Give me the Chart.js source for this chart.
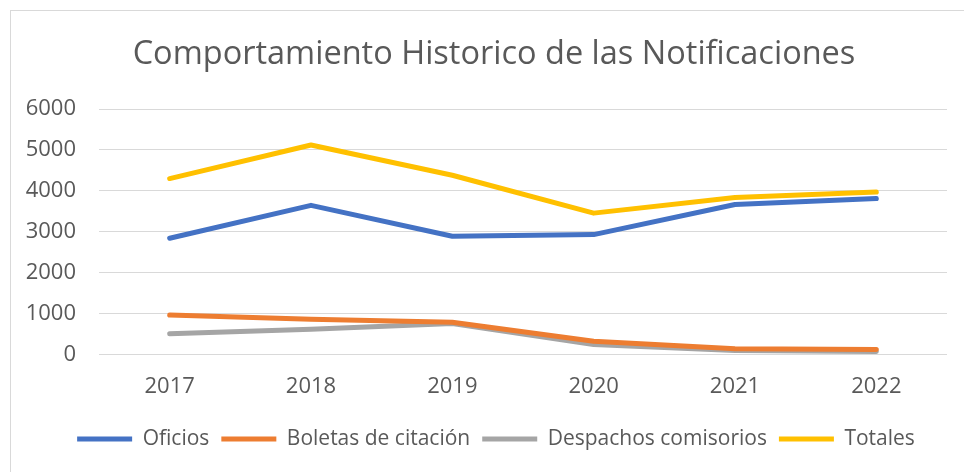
<!DOCTYPE html>
<html>
<head>
<meta charset="utf-8">
<script src="https://cdn.jsdelivr.net/npm/chart.js@4.4.1/dist/chart.umd.min.js"></script>
<style>
  html, body { margin: 0; padding: 0; background: #ffffff; }
  #wrap { position: relative; width: 964px; height: 472px; overflow: hidden; }
  #frame { position: absolute; left: 10px; top: 10px; width: 1000px; height: 500px;
           border-left: 1px solid #d9d9d9; border-top: 1px solid #d9d9d9; pointer-events: none; }
  canvas { position: absolute; left: 0; top: 0; }
</style>
</head>
<body>
<div id="wrap">
  <canvas id="c" width="964" height="472"></canvas>
  <div id="frame"></div>
</div>
<script>
const categories = ['2017', '2018', '2019', '2020', '2021', '2022'];
const oficios    = [2840, 3645, 2890, 2930, 3665, 3810];
const boletas    = [965, 860, 790, 325, 140, 120];
const despachos  = [505, 615, 760, 245, 95, 75];
const totales    = [4300, 5120, 4380, 3455, 3835, 3970];
const yTicks     = [0, 1000, 2000, 3000, 4000, 5000, 6000];
const titleText  = 'Comportamiento Historico de las Notificaciones';

const FONT = "'Open Sans', 'Liberation Sans', sans-serif";
const TXT = '#595959';

function ds(label, data, color) {
  return {
    label: label, data: data, borderColor: color, backgroundColor: color,
    borderWidth: 5, pointRadius: 0, pointHoverRadius: 0, pointStyle: 'line',
    borderCapStyle: 'round', borderJoinStyle: 'round', tension: 0, fill: false
  };
}

// centre the title and legend over the same span as in the reference
const blockShift = {
  id: 'blockShift',
  afterLayout(chart) {
    const t = chart.titleBlock;
    if (t) { t.left = 41; t.right = 947; t.width = t.right - t.left; }
    const l = chart.legend;
    if (l) { l.left = 45; l.right = 947; l.width = l.right - l.left; }
  }
};

new Chart(document.getElementById('c'), {
  type: 'line',
  data: {
    labels: categories,
    datasets: [
      ds('Oficios', oficios, '#4472C4'),
      ds('Boletas de citación', boletas, '#ED7D31'),
      ds('Despachos comisorios', despachos, '#A5A5A5'),
      ds('Totales', totales, '#FFC000')
    ]
  },
  plugins: [blockShift],
  options: {
    responsive: false,
    animation: false,
    layout: { padding: { left: 0, right: 17, top: 0, bottom: 12.5 } },
    plugins: {
      title: {
        display: true, text: titleText, color: TXT,
        font: { family: FONT, size: 32.5, weight: 'normal', lineHeight: 1.2 },
        padding: { top: 35.5, bottom: 34.5 }
      },
      legend: {
        position: 'bottom',
        labels: {
          color: TXT, font: { family: FONT, size: 21 },
          usePointStyle: true, pointStyleWidth: 55, boxHeight: 6,
          padding: 12
        }
      },
      tooltip: { enabled: false }
    },
    scales: {
      x: {
        offset: true,
        afterFit: function (s) { s.height = 62; },
        grid: { display: false, drawTicks: false },
        border: { display: false },
        ticks: { color: TXT, font: { family: FONT, size: 22 }, padding: 19, maxRotation: 0 }
      },
      y: {
        min: 0, max: 6000,
        afterFit: function (s) { s.width = 99; },
        afterBuildTicks: function (s) { s.ticks = yTicks.map(v => ({ value: v })); },
        grid: { color: '#D9D9D9', lineWidth: 1, drawTicks: false },
        border: { display: false },
        ticks: { color: TXT, font: { family: FONT, size: 22 }, padding: 23,
                 callback: function (v) { return String(v); } }
      }
    }
  }
});
</script>
</body>
</html>
